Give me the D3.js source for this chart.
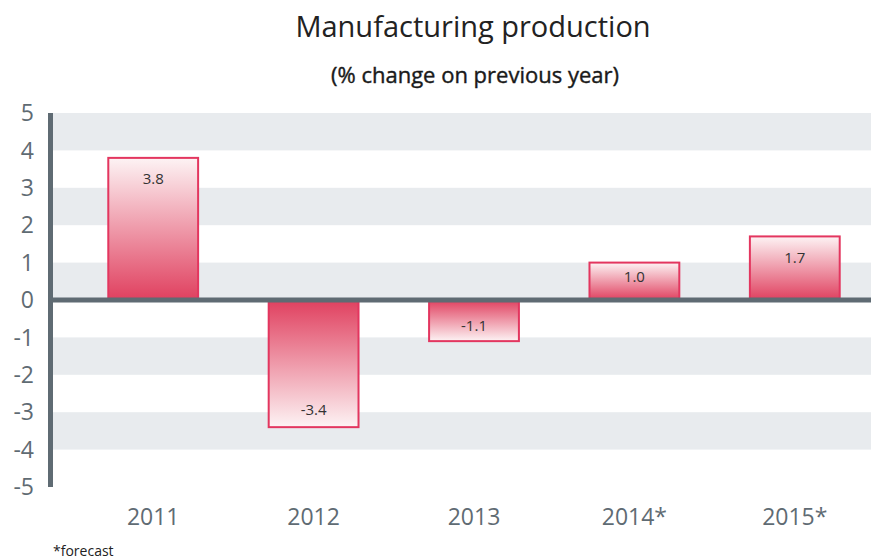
<!DOCTYPE html>
<html>
<head>
<meta charset="utf-8">
<script src="https://cdn.jsdelivr.net/npm/d3@7"></script>
<style>
  body { margin: 0; background: #fff; }
  text { font-family: "Open Sans", sans-serif; }
</style>
</head>
<body>
<div id="chart"></div>
<script>
const years = ["2011", "2012", "2013", "2014*", "2015*"];
const values = [3.8, -3.4, -1.1, 1.0, 1.7];
const yTicks = [5, 4, 3, 2, 1, 0, -1, -2, -3, -4, -5];
const bandRanges = [[5, 4], [3, 2], [1, 0], [-1, -2], [-3, -4]];

const width = 871;
const height = 560;

const svg = d3.select("#chart")
  .append("svg")
  .attr("width", width)
  .attr("height", height);

const defs = svg.append("defs");

const y = d3.scaleLinear().domain([-5, 5]).range([487, 113]);
const x = d3.scaleBand()
  .domain(years)
  .range([73, 875])
  .paddingInner(0.44)
  .paddingOuter(0.22);

const axisX = 50.5;

// alternating grey bands
svg.append("g")
  .selectAll("rect")
  .data(bandRanges)
  .enter()
  .append("rect")
  .attr("x", axisX)
  .attr("width", width - axisX)
  .attr("y", d => y(d[0]))
  .attr("height", d => y(d[1]) - y(d[0]))
  .attr("fill", "#e8ebee");

// gradients: dark at zero line, pale at the outer end
const gradUp = defs.append("linearGradient")
  .attr("id", "gradUp")
  .attr("x1", 0).attr("x2", 0).attr("y1", 1).attr("y2", 0);
gradUp.append("stop").attr("offset", "0%").attr("stop-color", "#e0405f");
gradUp.append("stop").attr("offset", "100%").attr("stop-color", "#fdf3f4");

const gradDown = defs.append("linearGradient")
  .attr("id", "gradDown")
  .attr("x1", 0).attr("x2", 0).attr("y1", 0).attr("y2", 1);
gradDown.append("stop").attr("offset", "0%").attr("stop-color", "#e0405f");
gradDown.append("stop").attr("offset", "100%").attr("stop-color", "#fdf3f4");

const data = years.map((yr, i) => ({ year: yr, value: values[i] }));

// bars
svg.append("g")
  .selectAll("rect")
  .data(data)
  .enter()
  .append("rect")
  .attr("x", d => x(d.year))
  .attr("width", x.bandwidth())
  .attr("y", d => y(Math.max(0, d.value)))
  .attr("height", d => Math.abs(y(d.value) - y(0)))
  .attr("fill", d => d.value >= 0 ? "url(#gradUp)" : "url(#gradDown)")
  .attr("stroke", "#e3365f")
  .attr("stroke-width", 2);

// value labels inside the outer end of each bar
const labelOffset = d => {
  const h = Math.abs(y(d.value) - y(0));
  return Math.min(d.value >= 0 ? 21 : 17, h * 0.37);
};
svg.append("g")
  .selectAll("text")
  .data(data)
  .enter()
  .append("text")
  .attr("x", d => x(d.year) + x.bandwidth() / 2)
  .attr("y", d => d.value >= 0 ? y(d.value) + labelOffset(d) : y(d.value) - labelOffset(d))
  .attr("dy", "0.35em")
  .attr("text-anchor", "middle")
  .attr("font-size", 15)
  .attr("fill", "#333")
  .text(d => d3.format(".1f")(d.value).replace("−", "-"));

// zero line
svg.append("line")
  .attr("x1", axisX).attr("x2", width)
  .attr("y1", y(0)).attr("y2", y(0))
  .attr("stroke", "#5f6b73")
  .attr("stroke-width", 5);

// left axis line
svg.append("line")
  .attr("x1", axisX).attr("x2", axisX)
  .attr("y1", y(5)).attr("y2", y(-5))
  .attr("stroke", "#5f6b73")
  .attr("stroke-width", 5);

// y tick labels
svg.append("g")
  .selectAll("text")
  .data(yTicks)
  .enter()
  .append("text")
  .attr("x", 34)
  .attr("y", d => y(d))
  .attr("dy", "0.36em")
  .attr("text-anchor", "end")
  .attr("font-size", 23)
  .attr("fill", "#5f6b73")
  .text(d => d < 0 ? "-" + Math.abs(d) : d);

// x labels
svg.append("g")
  .selectAll("text")
  .data(years)
  .enter()
  .append("text")
  .attr("x", d => x(d) + x.bandwidth() / 2)
  .attr("y", 525)
  .attr("text-anchor", "middle")
  .attr("font-size", 23)
  .attr("fill", "#5f6b73")
  .text(d => d);

// titles
svg.append("text")
  .attr("x", 473)
  .attr("y", 37)
  .attr("text-anchor", "middle")
  .attr("font-size", 29)
  .attr("fill", "#222")
  .text("Manufacturing production");

svg.append("text")
  .attr("x", 475)
  .attr("y", 83)
  .attr("text-anchor", "middle")
  .attr("font-size", 22)
  .attr("fill", "#1a1a1a")
  .attr("stroke", "#1a1a1a")
  .attr("stroke-width", 0.4)
  .text("(% change on previous year)");

svg.append("text")
  .attr("x", 53)
  .attr("y", 556)
  .attr("font-size", 14)
  .attr("fill", "#222")
  .text("*forecast");
</script>
</body>
</html>
